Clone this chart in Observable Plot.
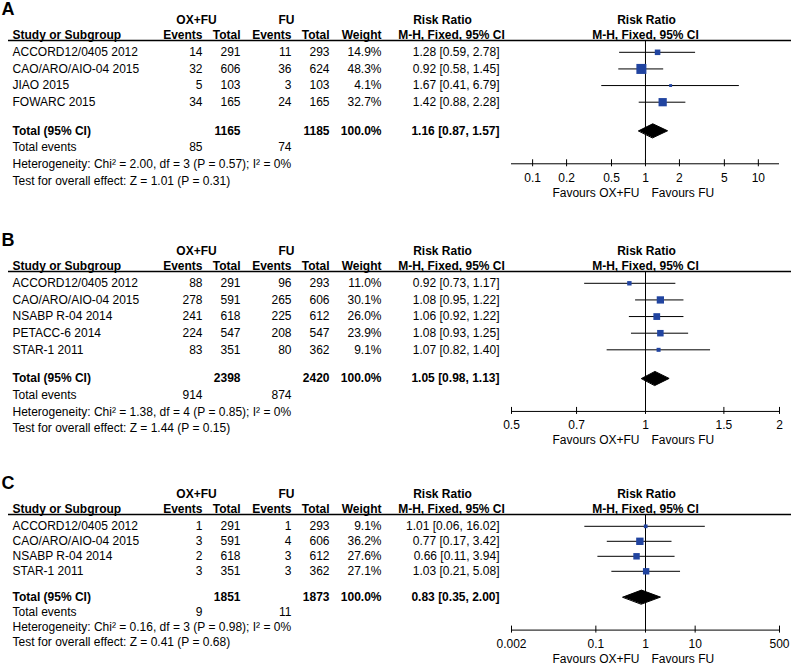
<!DOCTYPE html>
<html><head><meta charset="utf-8">
<script src="https://cdn.jsdelivr.net/npm/d3@7"></script>
<script src="https://cdn.jsdelivr.net/npm/@observablehq/plot@0.6"></script>
<style>
body{margin:0;background:#fff;}
#chart{width:791px;height:665px;overflow:hidden;background:#fff;}
#chart svg{display:block;}
</style></head><body><div id="chart"></div>
<script>
// ---------- Panel A ----------
const studiesA = ["ACCORD12/0405 2012","CAO/ARO/AIO-04 2015","JIAO 2015","FOWARC 2015"];
const oxEventsA = [14,32,5,34];
const oxTotalA = [291,606,103,165];
const fuEventsA = [11,36,3,24];
const fuTotalA = [293,624,103,165];
const weightA = [14.9,48.3,4.1,32.7];
const rrA = [1.28,0.92,1.67,1.42];
const lowA = [0.59,0.58,0.41,0.88];
const highA = [2.78,1.45,6.79,2.28];
const totalsA = [1165,1185];
const totalEventsA = [85,74];
const pooledA = [1.16,0.87,1.57];
const hetA = "Heterogeneity: Chi\u00B2 = 2.00, df = 3 (P = 0.57); I\u00B2 = 0%";
const testA = "Test for overall effect: Z = 1.01 (P = 0.31)";
const ticksA = [0.1,0.2,0.5,1,2,5,10];
const axisA = [0.065,15.4];

// ---------- Panel B ----------
const studiesB = ["ACCORD12/0405 2012","CAO/ARO/AIO-04 2015","NSABP R-04 2014","PETACC-6 2014","STAR-1 2011"];
const oxEventsB = [88,278,241,224,83];
const oxTotalB = [291,591,618,547,351];
const fuEventsB = [96,265,225,208,80];
const fuTotalB = [293,606,612,547,362];
const weightB = [11.0,30.1,26.0,23.9,9.1];
const rrB = [0.92,1.08,1.06,1.08,1.07];
const lowB = [0.73,0.95,0.92,0.93,0.82];
const highB = [1.17,1.22,1.22,1.25,1.40];
const totalsB = [2398,2420];
const totalEventsB = [914,874];
const pooledB = [1.05,0.98,1.13];
const hetB = "Heterogeneity: Chi\u00B2 = 1.38, df = 4 (P = 0.85); I\u00B2 = 0%";
const testB = "Test for overall effect: Z = 1.44 (P = 0.15)";
const ticksB = [0.5,0.7,1,1.5,2];
const axisB = [0.5,2];

// ---------- Panel C ----------
const studiesC = ["ACCORD12/0405 2012","CAO/ARO/AIO-04 2015","NSABP R-04 2014","STAR-1 2011"];
const oxEventsC = [1,3,2,3];
const oxTotalC = [291,591,618,351];
const fuEventsC = [1,4,3,3];
const fuTotalC = [293,606,612,362];
const weightC = [9.1,36.2,27.6,27.1];
const rrC = [1.01,0.77,0.66,1.03];
const lowC = [0.06,0.17,0.11,0.21];
const highC = [16.02,3.42,3.94,5.08];
const totalsC = [1851,1873];
const totalEventsC = [9,11];
const pooledC = [0.83,0.35,2.00];
const hetC = "Heterogeneity: Chi\u00B2 = 0.16, df = 3 (P = 0.98); I\u00B2 = 0%";
const testC = "Test for overall effect: Z = 0.41 (P = 0.68)";
const ticksC = [0.002,0.1,1,10,500];
const axisC = [0.002,500];

const favoursLabels = ["Favours OX+FU","Favours FU"];

// ---------- layout (pixels) ----------
const W = 791, ML = 511, MR = 12;
const ROW0 = 51.8;
const BLUE = "#2144a0";
const FONT = "'Liberation Sans', Arial, Helvetica, sans-serif";

function ciText(r, lo, hi){ return `${r.toFixed(2)} [${lo.toFixed(2)}, ${hi.toFixed(2)}]`; }

function panel(p){
  const n = p.studies.length;
  const R = p.rowH;
  const rows = p.studies.map((s,i)=>({i, study:s, oe:p.oxEvents[i], ot:p.oxTotal[i], fe:p.fuEvents[i], ft:p.fuTotal[i],
    w:p.weight[i], rr:p.rr[i], lo:p.low[i], hi:p.high[i]}));
  // vertical layout, in row units (header offsets given in pixels then converted)
  const yTot = n - 1 + 1.72, yEv = yTot + 1, yHet = yTot + 2, yTest = yTot + 3;
  const yAxis = yTot + 33 / R;
  const yLetter = -42.7 / R, yH1 = -32.6 / R, yH2 = -17.3 / R, yLine = -11.8 / R;
  const dHalf = 7 / R;

  const T = (data, px, anchor, extra={}) => Plot.text(data, {y:"y", text:"t", frameAnchor:"left", dx:px-ML,
    textAnchor:anchor, fontSize:12, fill:"#000", ...extra});
  const B = {fontWeight:"bold"};

  const study = rows.map(r=>({y:r.i, t:r.study}));
  const col = (key, fmt) => rows.map(r=>({y:r.i, t: fmt ? fmt(r[key]) : String(r[key])}));
  const diamond = [
    {x:p.pooled[1], y:yTot},
    {x:p.pooled[0], y:yTot-dHalf},
    {x:p.pooled[2], y:yTot},
    {x:p.pooled[0], y:yTot+dHalf}
  ];

  return Plot.plot({
    width: W, height: p.height,
    marginLeft: ML, marginRight: MR, marginTop: 0, marginBottom: 0,
    style: {fontFamily: FONT, fontSize: "12px", background: "#fff", color: "#000", overflow: "visible"},
    x: {type: "log", domain: p.axis, axis: null},
    y: {domain: [0,1], range: [ROW0, ROW0+R], axis: null},
    r: {type: "sqrt", domain: [0,50], range: [0, p.rMax]},
    marks: [
      T([{y:yLetter, t:p.letter}], 1, "start", {fontSize:18, fontWeight:"bold"}),
      T([{y:yH1, t:"OX+FU"}], 196, "middle", B),
      T([{y:yH1, t:"FU"}], 286, "middle", B),
      T([{y:yH1, t:"Risk Ratio"}], 442, "middle", B),
      T([{y:yH1, t:"Risk Ratio"}], 646, "middle", B),
      T([{y:yH2, t:"Study or Subgroup"}], 12, "start", B),
      T([{y:yH2, t:"Events"}], 202, "end", B),
      T([{y:yH2, t:"Total"}], 240, "end", B),
      T([{y:yH2, t:"Events"}], 291, "end", B),
      T([{y:yH2, t:"Total"}], 329, "end", B),
      T([{y:yH2, t:"Weight"}], 381, "end", B),
      T([{y:yH2, t:"M-H, Fixed, 95% CI"}], 451, "middle", B),
      T([{y:yH2, t:"M-H, Fixed, 95% CI"}], 645, "middle", B),
      Plot.ruleY([yLine], {y:d=>d, stroke:"#000", strokeWidth:1.3, insetLeft:-(ML-8), insetRight:-MR}),
      T(study, 12, "start"),
      T(col("oe"), 202, "end"),
      T(col("ot"), 240, "end"),
      T(col("fe"), 291, "end"),
      T(col("ft"), 329, "end"),
      T(col("w", v=>v.toFixed(1)+"%"), 381, "end"),
      T(rows.map(r=>({y:r.i, t:ciText(r.rr, r.lo, r.hi)})), 499, "end"),
      T([{y:yTot, t:"Total (95% CI)"}], 12, "start", B),
      T([{y:yTot, t:String(p.totals[0])}], 240, "end", B),
      T([{y:yTot, t:String(p.totals[1])}], 329, "end", B),
      T([{y:yTot, t:"100.0%"}], 381, "end", B),
      T([{y:yTot, t:ciText(p.pooled[0], p.pooled[1], p.pooled[2])}], 499, "end", B),
      T([{y:yEv, t:"Total events"}], 12, "start"),
      T([{y:yEv, t:String(p.totalEvents[0])}], 202, "end"),
      T([{y:yEv, t:String(p.totalEvents[1])}], 291, "end"),
      T([{y:yHet, t:p.het}], 12, "start"),
      T([{y:yTest, t:p.test}], 12, "start"),
      Plot.ruleX([1], {x:d=>d, y1:()=>yLine, y2:()=>yAxis, stroke:"#000", strokeWidth:1}),
      Plot.ruleY(rows, {y:"i", x1:"lo", x2:"hi", stroke:"#000", strokeWidth:1}),
      Plot.dot(rows, {x:"rr", y:"i", r:"w", symbol:"square", fill:BLUE, stroke:"none"}),
      Plot.line(diamond, {x:"x", y:"y", curve:"linear-closed", fill:"#000", stroke:"#000", strokeWidth:1}),
      Plot.ruleY([yAxis], {y:d=>d, stroke:"#000", strokeWidth:1}),
      Plot.ruleX(p.ticks, {x:d=>d, y1:()=>yAxis-4/R, y2:()=>yAxis+3/R, stroke:"#000", strokeWidth:1}),
      Plot.text(p.ticks, {x:d=>d, y:()=>yAxis, dy:14, text:d=>String(d), fontSize:12, fill:"#000"}),
      Plot.text([favoursLabels[0]], {x:()=>1, y:()=>yAxis, dy:29, dx:-6, text:d=>d, textAnchor:"end", fontSize:12, fill:"#000"}),
      Plot.text([favoursLabels[1]], {x:()=>1, y:()=>yAxis, dy:29, dx:6, text:d=>d, textAnchor:"start", fontSize:12, fill:"#000"})
    ]
  });
}

const chart = document.getElementById("chart");
chart.appendChild(panel({letter:"A", height:231, rMax:5.75, rowH:16.63,
  studies:studiesA, oxEvents:oxEventsA, oxTotal:oxTotalA, fuEvents:fuEventsA, fuTotal:fuTotalA,
  weight:weightA, rr:rrA, low:lowA, high:highA, totals:totalsA, totalEvents:totalEventsA,
  pooled:pooledA, het:hetA, test:testA, ticks:ticksA, axis:axisA}));
chart.appendChild(panel({letter:"B", height:243, rMax:5.3, rowH:16.63,
  studies:studiesB, oxEvents:oxEventsB, oxTotal:oxTotalB, fuEvents:fuEventsB, fuTotal:fuTotalB,
  weight:weightB, rr:rrB, low:lowB, high:highB, totals:totalsB, totalEvents:totalEventsB,
  pooled:pooledB, het:hetB, test:testB, ticks:ticksB, axis:axisB}));
chart.appendChild(panel({letter:"C", height:191, rMax:4.9, rowH:15,
  studies:studiesC, oxEvents:oxEventsC, oxTotal:oxTotalC, fuEvents:fuEventsC, fuTotal:fuTotalC,
  weight:weightC, rr:rrC, low:lowC, high:highC, totals:totalsC, totalEvents:totalEventsC,
  pooled:pooledC, het:hetC, test:testC, ticks:ticksC, axis:axisC}));
</script>
</body></html>
